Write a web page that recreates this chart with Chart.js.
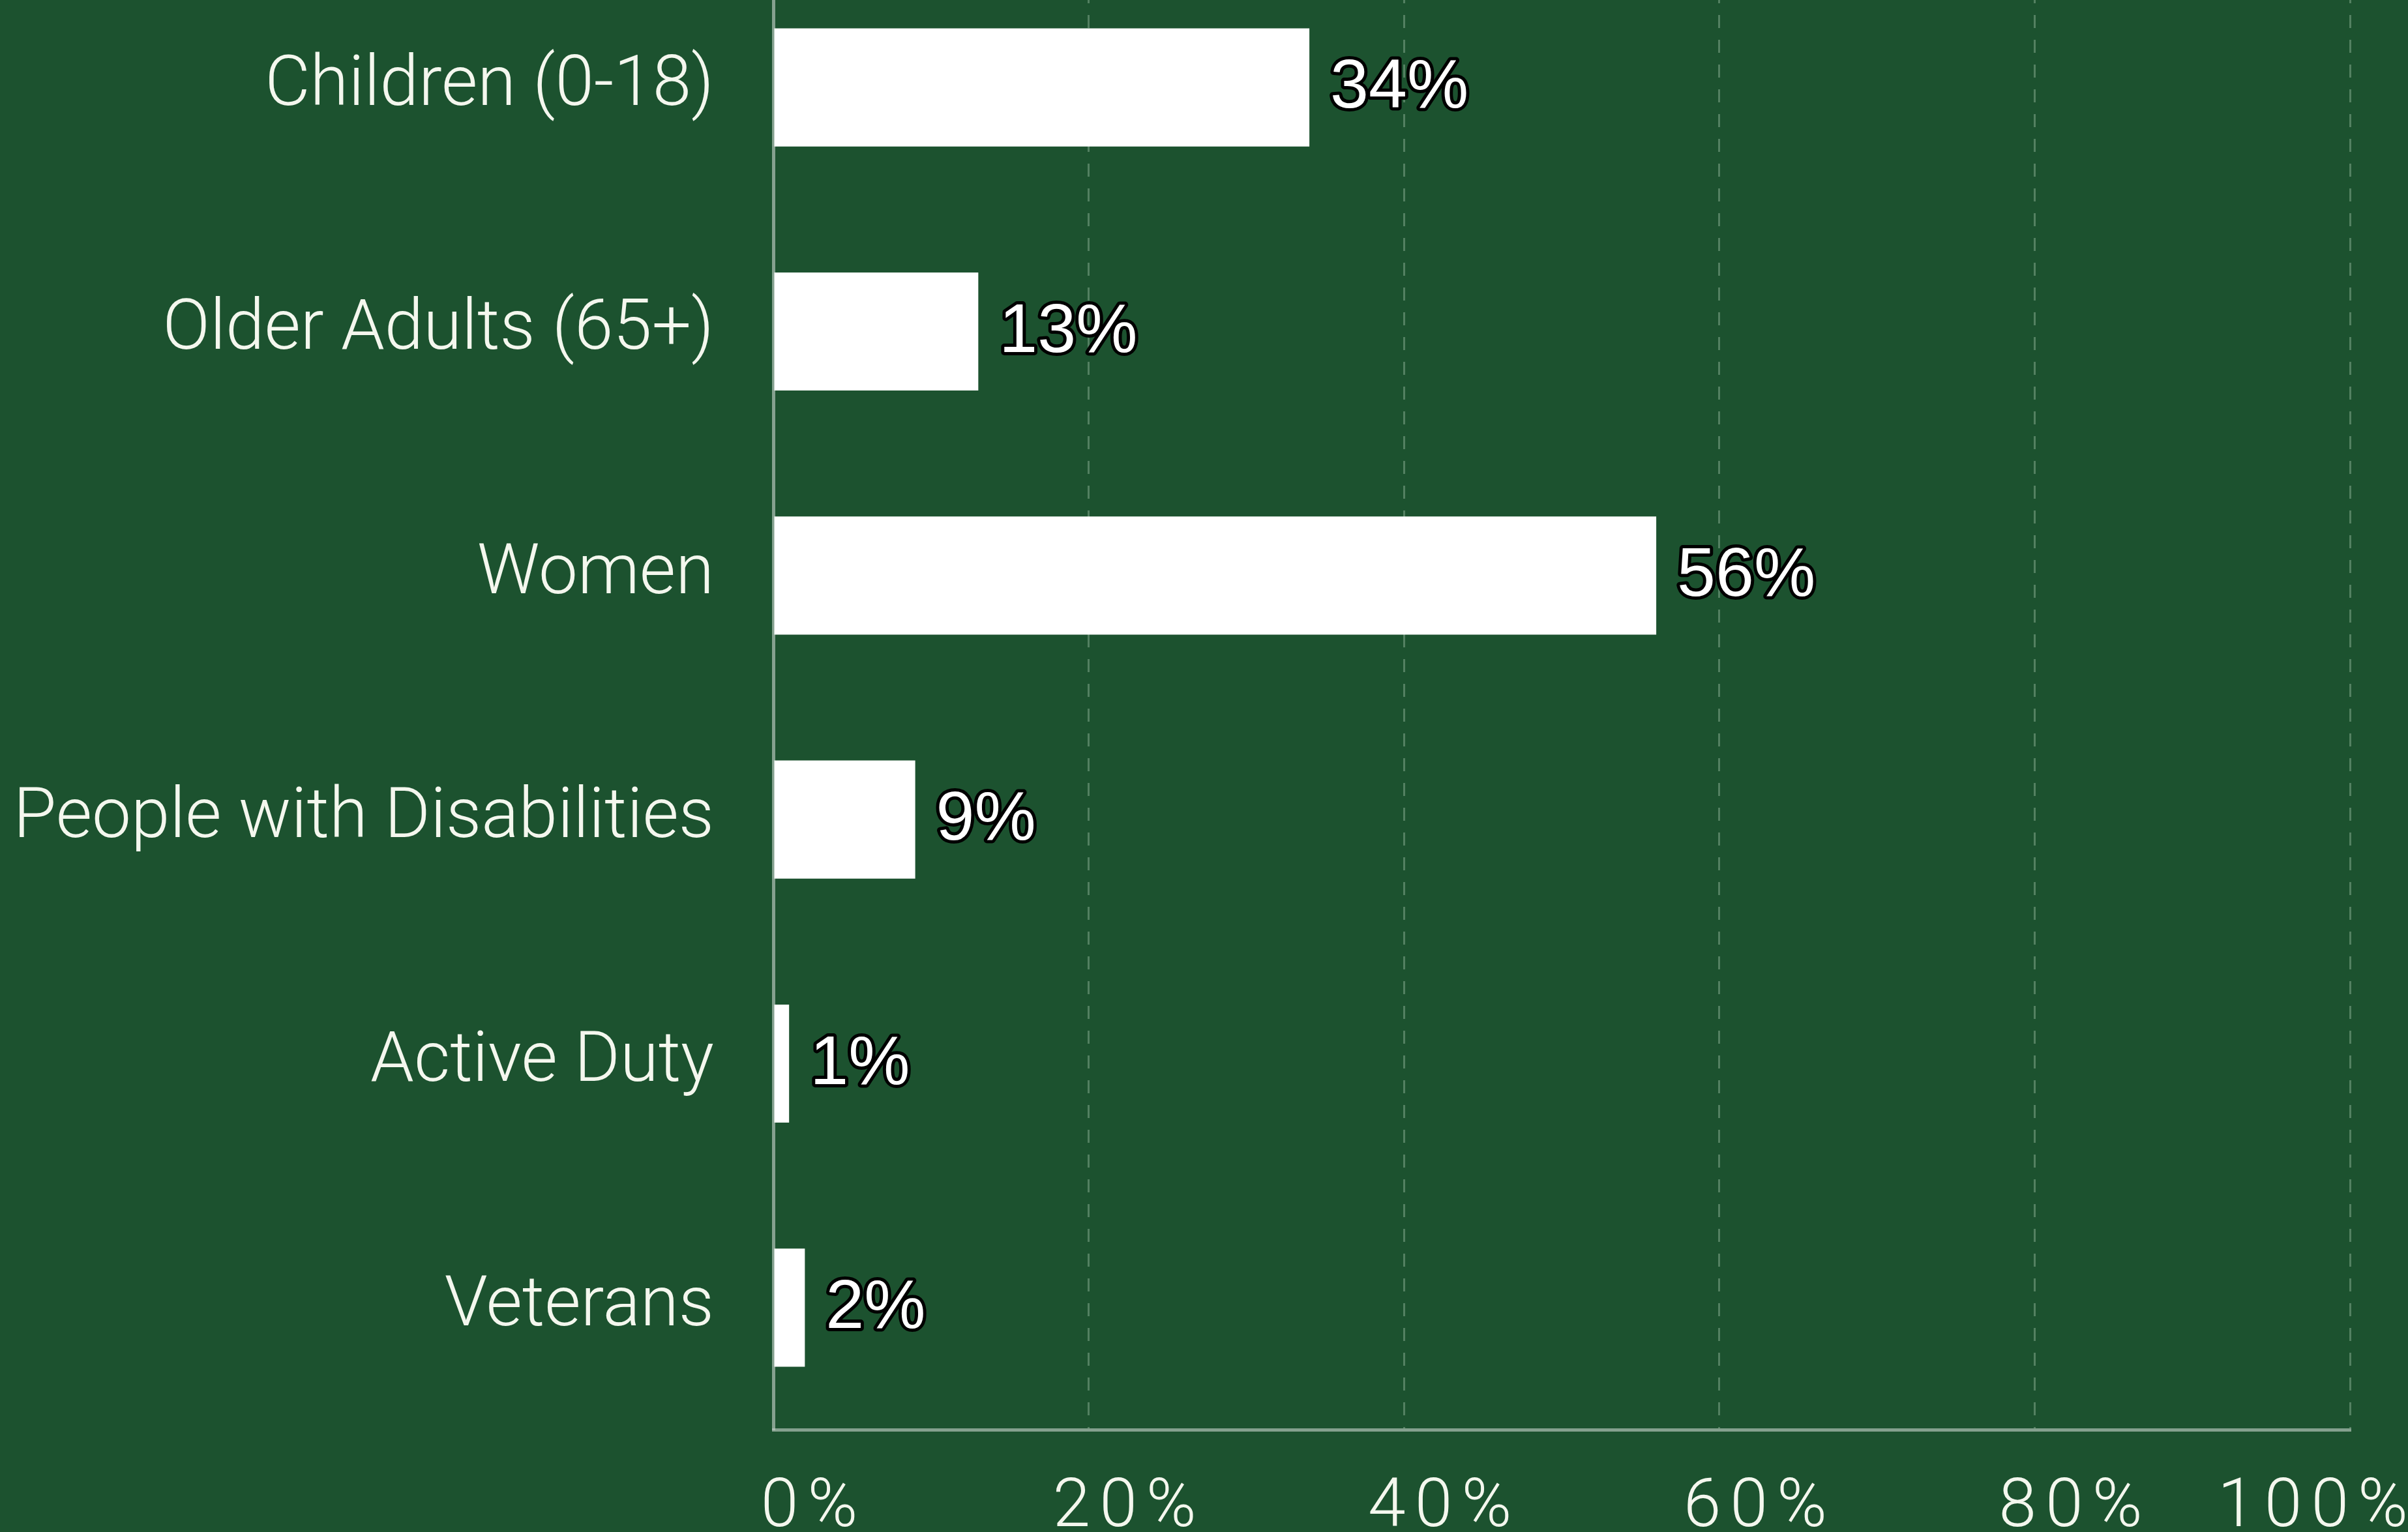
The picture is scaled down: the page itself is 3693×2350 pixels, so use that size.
<!DOCTYPE html>
<html>
<head>
<meta charset="utf-8">
<script src="https://cdn.jsdelivr.net/npm/chart.js@4/dist/chart.umd.min.js"></script>
<style>
  html, body { margin: 0; padding: 0; background: #1c522f; overflow: hidden; }
  #wrap { position: absolute; left: 0; top: -53px; width: 3693px; height: 2403px; }
</style>
</head>
<body>
<div id="wrap"><canvas id="barChart" width="3693" height="2403"></canvas></div>
<script>
// ----------- DATA -----------
const categories = ['Children (0-18)', 'Older Adults (65+)', 'Women', 'People with Disabilities', 'Active Duty', 'Veterans'];
const shareValues = [34, 13, 56, 9, 1, 2];
const xTickValues = [0, 20, 40, 60, 80, 100];

const lineColor = 'rgba(190, 205, 195, 0.65)';
const gridColor = 'rgba(150, 185, 160, 0.45)';
const tickSpacing = 14;

// value labels with a dark outline, drawn next to each bar
const valueLabels = {
  id: 'valueLabels',
  afterDatasetsDraw(chart) {
    const ctx = chart.ctx;
    const meta = chart.getDatasetMeta(0);
    ctx.save();
    ctx.font = '106px "Liberation Sans", Arial, sans-serif';
    ctx.textAlign = 'left';
    ctx.textBaseline = 'middle';
    ctx.lineJoin = 'round';
    ctx.lineWidth = 10;
    meta.data.forEach((bar, i) => {
      const txt = shareValues[i] + '%';
      const x = bar.x + 32;
      const y = bar.y + 2;
      ctx.strokeStyle = '#000';
      ctx.strokeText(txt, x, y);
      ctx.fillStyle = '#fff';
      ctx.fillText(txt, x, y);
    });
    ctx.restore();
  }
};

// spaced-out tick labels on the x axis, last one kept inside the canvas
const spacedTicks = {
  id: 'spacedTicks',
  beforeDraw(chart) {
    const sc = chart.scales.x;
    if (sc._spaced) return;
    const orig = sc.drawLabels;
    sc.drawLabels = function (area) {
      const items = this.getLabelItems(area);
      const last = items[items.length - 1];
      if (last) {
        last.options.textAlign = 'right';
        last.options.translation[0] = chart.width + tickSpacing;
      }
      this.ctx.save();
      this.ctx.letterSpacing = tickSpacing + 'px';
      orig.call(this, area);
      this.ctx.restore();
    };
    sc._spaced = true;
  }
};

const ctx = document.getElementById('barChart').getContext('2d');
const barChart = new Chart(ctx, {
  type: 'bar',
  data: {
    labels: categories,
    datasets: [{
      data: shareValues,
      backgroundColor: '#ffffff',
      borderWidth: 0,
      barPercentage: 0.484,
      categoryPercentage: 1
    }]
  },
  options: {
    indexAxis: 'y',
    responsive: false,
    animation: false,
    layout: { padding: { left: 0, right: 89, top: 0, bottom: 0 } },
    plugins: {
      legend: { display: false },
      tooltip: { enabled: false }
    },
    scales: {
      x: {
        min: 0,
        max: 100,
        afterBuildTicks: (scale) => { scale.ticks = xTickValues.map(v => ({ value: v })); },
        afterFit: (scale) => {
          scale.height = 157;
          scale.paddingLeft = 0;
          scale.paddingRight = 0;
        },
        grid: {
          drawTicks: false,
          lineWidth: 3,
          color: (c) => (c.tick && c.tick.value === 0) ? 'rgba(0,0,0,0)' : gridColor
        },
        border: { display: true, color: lineColor, width: 5, dash: [20, 18] },
        ticks: {
          autoSkip: false,
          maxRotation: 0,
          padding: 60,
          labelOffset: 62,
          color: '#f4f7ee',
          font: { family: 'Roboto', size: 104, weight: '300' },
          callback: (v) => v + '%'
        }
      },
      y: {
        afterFit: (scale) => {
          scale.width = 1186;
          scale.paddingTop = 0;
          scale.paddingBottom = 0;
        },
        grid: { display: false, drawTicks: false },
        border: { display: true, color: lineColor, width: 5 },
        ticks: {
          padding: 91,
          color: '#f4f7ee',
          font: { family: 'Roboto', size: 107, weight: '300' }
        }
      }
    }
  },
  plugins: [valueLabels, spacedTicks]
});
</script>
</body>
</html>
